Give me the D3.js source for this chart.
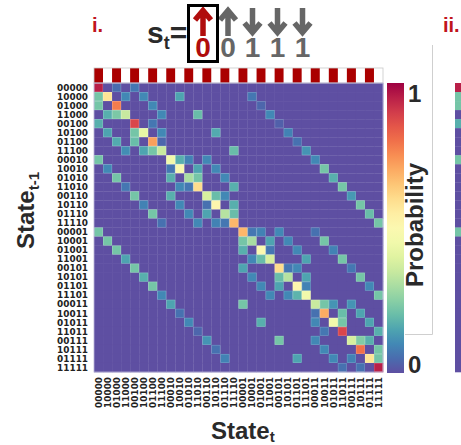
<!DOCTYPE html>
<html>
<head>
<meta charset="utf-8">
<script src="https://cdn.jsdelivr.net/npm/d3@7"></script>
<style>
  body { margin: 0; background: #fff; }
  svg { display: block; }
  .tick { font-family: "DejaVu Sans", sans-serif; font-weight: bold; font-size: 8.9px; fill: #222; }
  .big { font-family: "Liberation Sans", Arial, sans-serif; font-weight: bold; }
</style>
</head>
<body>
<svg id="chart"></svg>
<script>
// states in plot order (first bit changes fastest)
const states = ["00000","10000","01000","11000","00100","10100","01100","11100",
  "00010","10010","01010","11010","00110","10110","01110","11110",
  "00001","10001","01001","11001","00101","10101","01101","11101",
  "00011","10011","01011","11011","00111","10111","01111","11111"];

// current state bits shown in the title
const stBits = ["0","0","1","1","1"];
const highlightBit = 0;

// non-zero transition probabilities: [row (state t-1), col (state t), p]
const transitions = [
  [0,0,.95],[0,2,.05],[0,4,.07],
  [1,0,.22],[1,1,.58],[1,3,.1],[1,5,.1],[1,9,.15],[1,17,.07],
  [2,0,.22],[2,2,.78],[2,6,.1],[2,18,.04],
  [3,1,.17],[3,2,.23],[3,3,.35],[3,7,.1],[3,11,.2],[3,19,.1],
  [4,0,.17],[4,4,.88],[4,6,.07],[4,20,.03],
  [5,1,.15],[5,4,.22],[5,5,.42],[5,7,.1],[5,13,.16],[5,21,.09],
  [6,2,.16],[6,4,.2],[6,6,.72],[6,7,.04],[6,22,.06],
  [7,3,.11],[7,5,.15],[7,6,.22],[7,7,.35],[7,15,.2],[7,23,.12],
  [8,0,.22],[8,8,.45],[8,9,.17],[8,10,.09],[8,12,.1],[8,24,.1],
  [9,1,.1],[9,8,.07],[9,9,.48],[9,11,.15],[9,13,.1],[9,25,.22],
  [10,2,.22],[10,8,.17],[10,10,.3],[10,11,.22],[10,14,.1],[10,26,.17],
  [11,3,.07],[11,9,.1],[11,10,.07],[11,11,.6],[11,15,.17],[11,27,.22],
  [12,4,.22],[12,8,.17],[12,12,.38],[12,13,.2],[12,14,.1],[12,28,.13],
  [13,5,.09],[13,9,.1],[13,12,.06],[13,13,.52],[13,15,.17],[13,29,.22],
  [14,6,.22],[14,10,.1],[14,12,.15],[14,14,.32],[14,15,.2],[14,30,.2],
  [15,7,.06],[15,11,.1],[15,13,.09],[15,14,.07],[15,15,.68],[15,31,.22],
  [16,0,.22],[16,16,.68],[16,17,.07],[16,18,.09],[16,20,.1],[16,24,.06],
  [17,1,.22],[17,16,.22],[17,17,.3],[17,19,.15],[17,21,.1],[17,25,.22],
  [18,2,.22],[18,16,.17],[18,18,.5],[18,19,.07],[18,22,.1],[18,26,.09],
  [19,3,.15],[19,17,.1],[19,18,.2],[19,19,.38],[19,23,.15],[19,27,.22],
  [20,4,.22],[20,16,.15],[20,20,.6],[20,21,.07],[20,22,.1],[20,28,.07],
  [21,5,.17],[21,17,.1],[21,20,.2],[21,21,.32],[21,23,.15],[21,29,.22],
  [22,6,.22],[22,18,.1],[22,20,.15],[22,22,.52],[22,23,.09],[22,30,.1],
  [23,7,.1],[23,19,.1],[23,21,.1],[23,22,.18],[23,23,.45],[23,31,.22],
  [24,8,.15],[24,16,.22],[24,24,.35],[24,25,.22],[24,26,.12],[24,28,.12],
  [25,9,.06],[25,24,.06],[25,25,.7],[25,27,.2],[25,29,.15],
  [26,10,.1],[26,18,.17],[26,24,.1],[26,26,.45],[26,27,.22],[26,30,.15],
  [27,11,.04],[27,25,.07],[27,27,.88],[27,31,.17],
  [28,12,.12],[28,20,.22],[28,24,.1],[28,28,.38],[28,29,.24],[28,30,.17],
  [29,13,.06],[29,25,.1],[29,29,.8],[29,31,.22],
  [30,14,.09],[30,22,.15],[30,26,.1],[30,28,.09],[30,30,.58],[30,31,.22],
  [31,27,.06],[31,29,.06],[31,31,.95]
];

// first column of the next panel (ii.), only its edge is visible
const panel2Col0 = [[0,.95],[1,.22],[2,.22],[4,.17],[8,.22],[16,.22]];

const W = 461, H = 445;
const svg = d3.select("#chart").attr("width", W).attr("height", H);

const x = d3.scaleBand().domain(states).range([94, 383]);
const y = d3.scaleBand().domain(states).range([83, 372]);
const color = v => d3.interpolateSpectral(1 - v);
const red = "#b00d0d";

// full matrix (zeros as background cells)
const cells = [];
states.forEach((r, i) => states.forEach((c, j) => cells.push({r: i, c: j, p: 0})));
transitions.forEach(([i, j, p]) => { cells[i * 32 + j].p = p; });

svg.append("g").selectAll("rect")
  .data(cells)
  .join("rect")
  .attr("x", d => x(states[d.c]))
  .attr("y", d => y(states[d.r]))
  .attr("width", x.bandwidth() + 0.3)
  .attr("height", y.bandwidth() + 0.3)
  .attr("fill", d => color(d.p));

svg.append("g").selectAll("rect")
  .data(cells.filter(d => d.p > 0))
  .join("rect")
  .attr("x", d => x(states[d.c]) + 0.3)
  .attr("y", d => y(states[d.r]) + 0.3)
  .attr("width", x.bandwidth() - 0.6)
  .attr("height", y.bandwidth() - 0.6)
  .attr("fill", "none")
  .attr("stroke", "#fff")
  .attr("stroke-opacity", 0.25)
  .attr("stroke-width", 0.6);

// stripe bar marking columns whose first bit equals the highlighted bit
svg.append("g").selectAll("rect")
  .data(states)
  .join("rect")
  .attr("x", d => x(d))
  .attr("y", 68)
  .attr("width", x.bandwidth() + 0.2)
  .attr("height", 15)
  .attr("fill", d => d[highlightBit] === stBits[highlightBit] ? "#aa0000" : "#fff");

svg.append("rect").attr("x", 94).attr("y", 68).attr("width", 289).attr("height", 15)
  .attr("fill", "none").attr("stroke", "#c8c8c8").attr("stroke-width", 0.8);
svg.append("rect").attr("x", 94).attr("y", 83).attr("width", 289).attr("height", 289)
  .attr("fill", "none").attr("stroke", "#b8b3d8").attr("stroke-width", 0.8);

// row labels
svg.append("g").selectAll("text")
  .data(states)
  .join("text")
  .attr("class", "tick")
  .attr("x", 88)
  .attr("y", d => y(d) + y.bandwidth() / 2)
  .attr("dy", "0.36em")
  .attr("text-anchor", "end")
  .text(d => d);

// column labels, rotated
svg.append("g").selectAll("text")
  .data(states)
  .join("text")
  .attr("class", "tick")
  .attr("transform", d => `translate(${x(d) + x.bandwidth() / 2},377) rotate(-90)`)
  .attr("dy", "0.36em")
  .attr("text-anchor", "end")
  .text(d => d);

// axis titles
const yl = svg.append("text").attr("class", "big")
  .attr("transform", "translate(34,249) rotate(-90)")
  .attr("font-size", 24).attr("fill", "#2a2a2a");
yl.append("tspan").text("State");
yl.append("tspan").attr("dy", 5).attr("font-size", 15).text("t-1");

const xl = svg.append("text").attr("class", "big")
  .attr("x", 211).attr("y", 439)
  .attr("font-size", 24).attr("fill", "#2a2a2a");
xl.append("tspan").text("State");
xl.append("tspan").attr("dy", 3).attr("font-size", 15).text("t");

// colour bar
const defs = svg.append("defs");
const grad = defs.append("linearGradient").attr("id", "cbar")
  .attr("x1", 0).attr("y1", 1).attr("x2", 0).attr("y2", 0);
d3.range(0, 1.0001, 0.05).forEach(t => {
  grad.append("stop").attr("offset", t).attr("stop-color", color(t));
});
const cb = d3.scaleLinear().domain([0, 1]).range([373, 83]);
svg.append("rect").attr("x", 387).attr("y", cb(1)).attr("width", 17)
  .attr("height", cb(0) - cb(1)).attr("fill", "url(#cbar)");
svg.append("g").selectAll("text")
  .data([0, 1])
  .join("text")
  .attr("class", "big")
  .attr("x", 408)
  .attr("y", d => d === 1 ? cb(1) + 19 : cb(0))
  .attr("font-size", 24).attr("fill", "#2a2a2a")
  .text(d => d);
svg.append("text").attr("class", "big")
  .attr("transform", `translate(423,${cb(0.5) - 3}) rotate(-90)`)
  .attr("text-anchor", "middle")
  .attr("font-size", 24).attr("fill", "#2a2a2a")
  .text("Probability");

// light frame lines next to the legend
svg.append("path").attr("d", "M432.5,45V334.5H405")
  .attr("fill", "none").attr("stroke", "#cfcfcf").attr("stroke-width", 1);

// title: s_t = bits with arrows
svg.append("text").attr("class", "big").attr("x", 92).attr("y", 32)
  .attr("font-size", 20).attr("fill", "#c0151b").text("i.");
svg.append("text").attr("class", "big").attr("x", 443).attr("y", 32)
  .attr("font-size", 20).attr("fill", "#c0151b").text("ii.");

const st = svg.append("text").attr("class", "big").attr("x", 147).attr("y", 43)
  .attr("font-size", 30).attr("fill", "#2a2a2a");
st.append("tspan").text("s");
st.append("tspan").attr("dy", 6).attr("font-size", 18).text("t");
st.append("tspan").attr("dy", -6).text("=");

const bitX = d3.scaleLinear().domain([0, 4]).range([203, 303]);
const bits = svg.append("g").selectAll("g")
  .data(stBits.map((b, i) => ({b, i})))
  .join("g")
  .attr("transform", d => `translate(${bitX(d.i) - (d.i > 1 ? 0.5 : 0)},0)`);
bits.append("path")
  .attr("d", d => d.b === "0"
    ? "M0,36V10M-8,20L0,10.5L8,20"
    : "M0,8V33M-8,23L0,32.5L8,23")
  .attr("fill", "none")
  .attr("stroke", d => d.i === highlightBit ? red : "#666")
  .attr("stroke-width", 5.5)
  .attr("stroke-linejoin", "miter");
bits.append("text").attr("class", "big")
  .attr("y", 57).attr("text-anchor", "middle")
  .attr("font-size", 28)
  .attr("fill", d => d.i === highlightBit ? red : "#666")
  .text(d => d.b);
svg.append("rect").attr("x", 188.5).attr("y", 5.5).attr("width", 29).attr("height", 56)
  .attr("fill", "none").attr("stroke", "#000").attr("stroke-width", 3);

// edge of panel ii.
const p2 = svg.append("g");
p2.selectAll("rect")
  .data(states.map((s, i) => ({i, p: (panel2Col0.find(e => e[0] === i) || [0, 0])[1]})))
  .join("rect")
  .attr("x", 455)
  .attr("y", d => y(states[d.i]))
  .attr("width", 9)
  .attr("height", y.bandwidth() + 0.3)
  .attr("fill", d => color(d.p));
</script>
</body>
</html>
